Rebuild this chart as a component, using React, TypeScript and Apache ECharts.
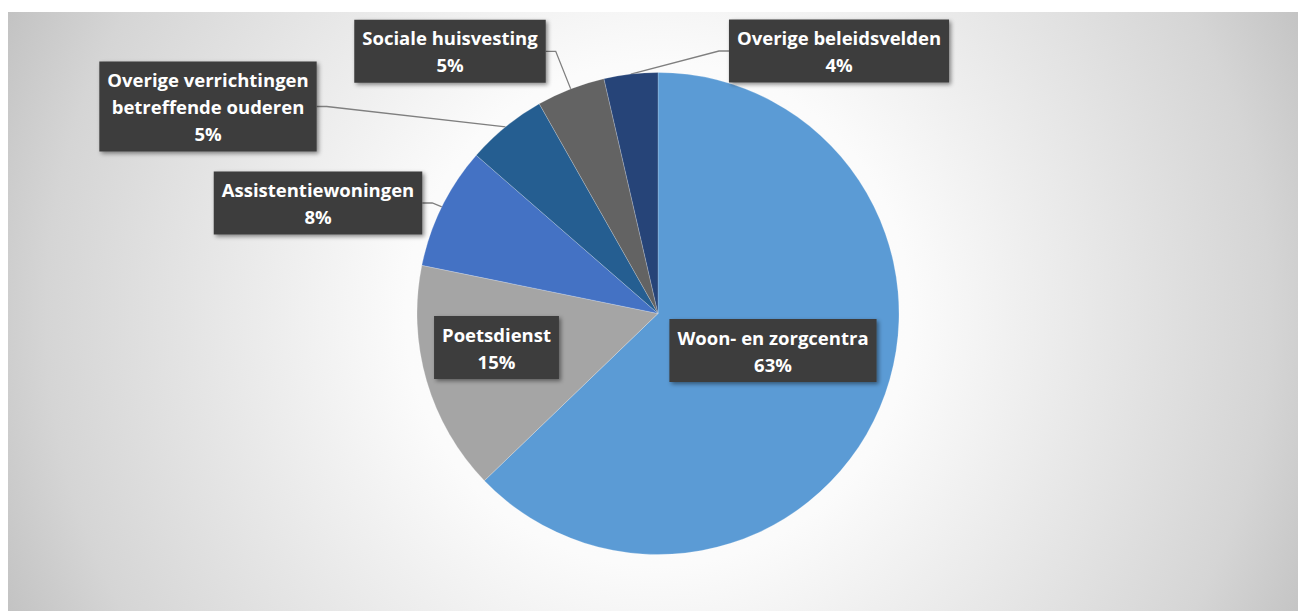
import React, { useEffect, useRef } from "react";
import * as echarts from "echarts";

const categories = [
  "Woon- en zorgcentra",
  "Poetsdienst",
  "Assistentiewoningen",
  "Overige verrichtingen betreffende ouderen",
  "Sociale huisvesting",
  "Overige beleidsvelden",
];
const values = [62.8, 15.4, 8.2, 5.4, 4.6, 3.6];
const colors = ["#5B9BD5", "#A5A5A5", "#4472C4", "#255E91", "#636363", "#264478"];
const insideLabels = [true, true, false, false, false, false];

// layout: label box centres in chart pixels
const labelPos: number[][] = [
  [765, 338.5],
  [488.5, 335.5],
  [310, 191],
  [200, 94.5],
  [442, 39.3],
  [831, 39],
];

export default function App() {
  const ref = useRef<HTMLDivElement>(null);
  useEffect(() => {
    const chart = echarts.init(ref.current!, null, { renderer: "svg" });
    const W = 1290;
    const H = 599;
    const cx = 650;
    const cy = 301.5;
    chart.setOption({
      animation: false,
      graphic: [
        {
          type: "rect",
          z: -10,
          silent: true,
          shape: { x: 0, y: 0, width: W, height: H },
          style: {
            fill: new echarts.graphic.RadialGradient(
              cx,
              cy,
              720,
              [
                { offset: 0, color: "#ffffff" },
                { offset: 0.35, color: "#fbfbfb" },
                { offset: 0.6, color: "#e8e8e8" },
                { offset: 0.85, color: "#d5d5d5" },
                { offset: 1, color: "#c2c2c2" },
              ],
              true
            ),
          },
        },
      ],
      series: [
        {
          type: "pie",
          center: [cx, cy],
          radius: 241,
          startAngle: 90,
          clockwise: true,
          avoidLabelOverlap: false,
          itemStyle: {
            borderColor: "rgba(255,255,255,0.35)",
            borderWidth: 0.6,
          },
          label: {
            show: true,
            formatter: (p: any) =>
              p.name.replace("verrichtingen ", "verrichtingen\n") +
              "\n" +
              Math.round(p.percent) +
              "%",
            color: "#ffffff",
            fontFamily: "Open Sans",
            fontWeight: "bold",
            fontSize: 18.5,
            lineHeight: 27,
            backgroundColor: "#3c3c3c",
            padding: [5, 8, 4, 8],
            align: "center",
            shadowColor: "rgba(0,0,0,0.45)",
            shadowBlur: 4,
            shadowOffsetX: 2,
            shadowOffsetY: 2,
          },
          labelLine: {
            show: true,
            length: 10,
            length2: 10,
            lineStyle: { color: "#7f7f7f", width: 1.3 },
          },
          labelLayout: (p: any) => {
            const [x, y] = labelPos[p.dataIndex];
            const w = p.labelRect.width;
            const res: any = { x, y, align: "center", verticalAlign: "middle" };
            if (!insideLabels[p.dataIndex] && p.labelLinePoints) {
              const start = p.labelLinePoints[0];
              const leftSide = x < cx;
              const ex = leftSide ? x + w / 2 : x - w / 2;
              const bx = leftSide ? ex + 10 : ex - 10;
              res.labelLinePoints = [start, [bx, y], [ex, y]];
            }
            return res;
          },
          data: categories.map((name, i) => ({
            name,
            value: values[i],
            itemStyle: { color: colors[i] },
            label: { position: insideLabels[i] ? "inside" : "outside" },
            labelLine: { show: !insideLabels[i] },
          })),
        },
      ],
    });
    return () => chart.dispose();
  }, []);
  return (
    <div
      ref={ref}
      style={{ position: "absolute", left: 8, top: 12, width: 1290, height: 599 }}
    />
  );
}
